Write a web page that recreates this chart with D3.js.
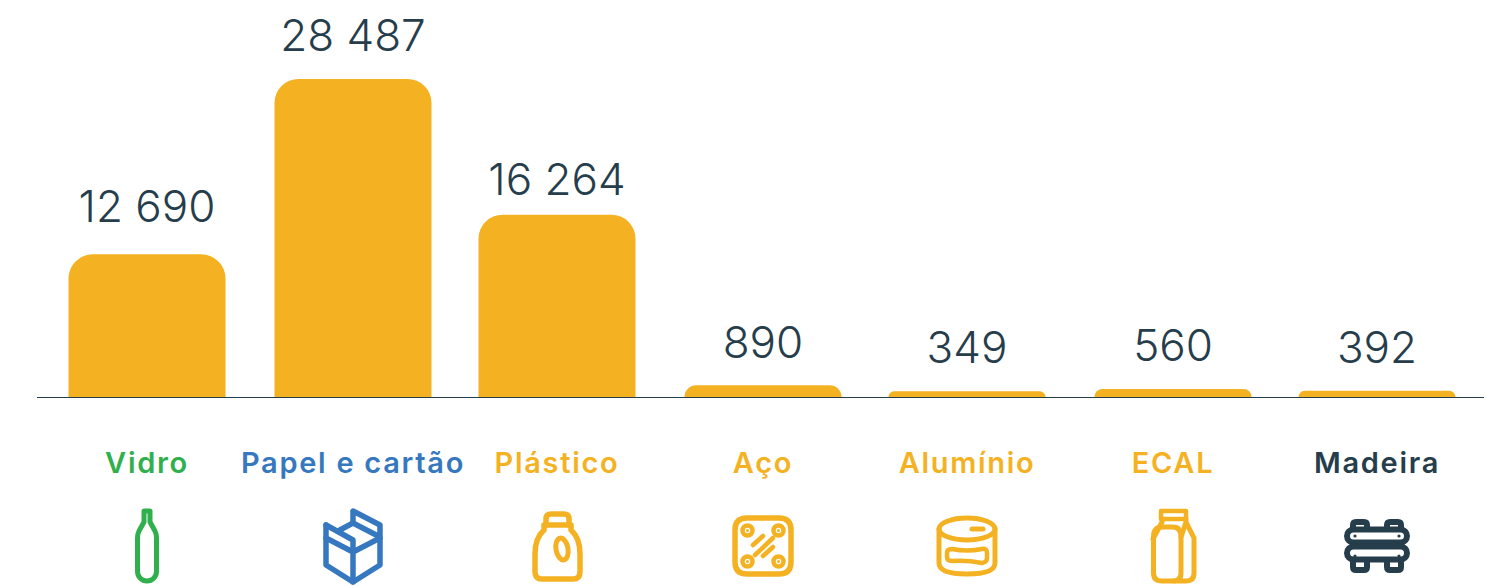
<!DOCTYPE html>
<html lang="pt">
<head>
<meta charset="utf-8">
<script src="https://cdn.jsdelivr.net/npm/d3@7/dist/d3.min.js"></script>
<style>
html,body{margin:0;padding:0;background:#fff;overflow:hidden}
svg{display:block}
</style>
</head>
<body>
<svg id="chart" width="1487" height="586"></svg>
<script>
const categories = ["Vidro","Papel e cartão","Plástico","Aço","Alumínio","ECAL","Madeira"];
const values = [12690,28487,16264,890,349,560,392];
const valueLabels = ["12 690","28 487","16 264","890","349","560","392"];
const iconKeys = ["bottle","box","jug","steel","can","carton","wood"];

// layout & style
const W = 1487, H = 586;
const baseline = 397;
const barColor = "#f4b223", inkColor = "#263d4c";
const labelColors = ["#2fb04c","#3678bf","#f4b223","#f4b223","#f4b223","#f4b223","#263d4c"];
const labelGap = [32.5,28,20,27.5,28.5,28.5,28];
const columnNudge = [0,1,0,1,0,1,0];

const x = d3.scaleBand().domain(categories).range([44.5,1479.5]).paddingInner(0.234).paddingOuter(0.117);
const y = d3.scaleLinear().domain([-160,28487]).range([baseline,79]);
const color = d3.scaleOrdinal().domain(categories).range(labelColors);

const svg = d3.select("#chart");
const idx = new Map(categories.map((c,i)=>[c,i]));
const left = c => x(c)+columnNudge[idx.get(c)];
const mid = c => left(c)+x.bandwidth()/2;

function topRounded(xp,yp,w,h,r){
  r = Math.min(r,h,w/2);
  const p = d3.path();
  p.moveTo(xp,yp+h);
  p.lineTo(xp,yp+r);
  p.arcTo(xp,yp,xp+r,yp,r);
  p.lineTo(xp+w-r,yp);
  p.arcTo(xp+w,yp,xp+w,yp+r,r);
  p.lineTo(xp+w,yp+h);
  p.closePath();
  return p.toString();
}

const data = categories.map((c,i)=>({c,v:values[i],t:valueLabels[i],icon:iconKeys[i]}));

svg.append("g").selectAll("path").data(data).join("path")
  .attr("d",d=>topRounded(left(d.c),y(d.v),x.bandwidth(),baseline-y(d.v),24))
  .attr("fill",barColor);

svg.append("line").attr("x1",37).attr("x2",1484).attr("y1",baseline+0.5).attr("y2",baseline+0.5)
  .attr("stroke",inkColor).attr("stroke-width",1.2);

svg.append("g").selectAll("text").data(data).join("text")
  .attr("x",d=>mid(d.c))
  .attr("y",d=>y(d.v)-labelGap[idx.get(d.c)])
  .attr("text-anchor","middle")
  .attr("font-family","Inter")
  .attr("font-weight",300)
  .attr("font-size",44)
  .attr("fill",inkColor)
  .text(d=>d.t);

svg.append("g").selectAll("text").data(data).join("text")
  .attr("x",d=>mid(d.c))
  .attr("y",473)
  .attr("text-anchor","middle")
  .attr("font-family","Inter")
  .attr("font-weight",600)
  .attr("font-size",29)
  .attr("letter-spacing",1.7)
  .attr("fill",d=>color(d.c))
  .text(d=>d.c);

// icons: pictograms in local coordinates around (category centre, iconY)
const iconY = 546;
const icons = {
  bottle:[{d:"M-3,-35 H3 V-24 L8,-15 Q9.5,-12 9.5,-8 V25.5 A9.5,9.5 0 0 1 -9.5,25.5 V-8 Q-9.5,-12 -8,-15 L-3,-24 Z"}],
  box:[{d:"M-27,-21 V19 L0,36 L27,19 V-21 L0,-35 V-23 L27,-9",w:5.5},
       {d:"M0,-23 L-15,-15 M-27,-21 L0,-6 V6 L-27,-8 M0,6 V36 M0,6 L27,-8",w:5.5}],
  jug:[{d:"M-11,-21 V-27 Q-11,-32 -6,-32 H7 Q12,-32 12,-27 V-21",w:5.5},
       {d:"M-13,-21 H14 V-16 Q23,-8 23,8 V26 Q23,33 16,33 H-15 Q-22,33 -22,26 V8 Q-22,-8 -13,-16 Z",w:5.5},
       {ellipse:[5,3,6,11,-10]}],
  steel:[{d:"M-16,-28 H16 Q28,-28 28,-16 V16 Q28,28 16,28 H-16 Q-28,28 -28,16 V-16 Q-28,-28 -16,-28 Z",w:5.5},
       {ring:[-15.5,-15.5]},{ring:[15.5,-15.5]},{ring:[-15.5,15.5]},{ring:[15.5,15.5]},
       {d:"M-8,9 L10,-8 M-10,-1 L0,-10 M0,10 L10,1",w:4.5}],
  can:[{ellipse:[0,-17,28,11,0]},
       {d:"M-28,-17 V17 Q-28,28 0,28 Q28,28 28,17 V-17"},
       {d:"M5,-17 H16"},
       {d:"M-15,3 Q0,6 15,3 Q20,2 20,7 V12 Q20,16 15,17 Q0,14 -15,15 Q-20,15 -20,11 V7 Q-20,3 -15,3 Z",w:4.5}],
  carton:[{d:"M-12,-35 H13 V-27 H-12 Z",w:4.5},
       {d:"M-11,-27 V-24 L-20,-7"},
       {d:"M-11,-19 H0 Q8,-19 8,-9 V27 Q8,35 0,35 H-11 Q-19.5,35 -19.5,27 V-9 Q-19.5,-19 -11,-19 Z"},
       {d:"M13,-27 V-24 L21,-8 V27 Q21,35 13,35 H1 M8,-9 L13,-24"}],
  wood:[{d:"M-23.5,-10 A6.5,6.5 0 0 1 -23.5,-23 H23.5 A6.5,6.5 0 0 1 23.5,-10 Z",dy:6.5,w:6},
       {d:"M-23.5,10 A6.5,6.5 0 0 1 -23.5,-3 H23.5 A6.5,6.5 0 0 1 23.5,10 Z",dy:3.5,w:6},
       {d:"M-24,-17 V-21 Q-24,-24 -21,-24 H-13 Q-10,-24 -10,-21 V-17 M10,-17 V-21 Q10,-24 13,-24 H21 Q24,-24 24,-21 V-17",w:6},
       {d:"M-24,17 V21 Q-24,24 -21,24 H-13 Q-10,24 -10,21 V17 M10,17 V21 Q10,24 13,24 H21 Q24,24 24,21 V17",w:6},
       {d:"M-13,0 H13",w:3},
       {dot:[-22,-10]},{dot:[22,-10]},{dot:[-22,10]},{dot:[22,10]}]
};

const iconG = svg.append("g").selectAll("g").data(data).join("g")
  .attr("transform",d=>`translate(${mid(d.c)},${iconY})`)
  .attr("fill","none").attr("stroke",d=>color(d.c)).attr("stroke-width",5)
  .attr("stroke-linecap","round").attr("stroke-linejoin","round");

iconG.each(function(d){
  const g = d3.select(this), col = color(d.c);
  icons[d.icon].forEach(s=>{
    if(s.d){
      const p = g.append("path").attr("d",s.d);
      if(s.w) p.attr("stroke-width",s.w);
      if(s.dy) p.attr("transform",`translate(0,${s.dy})`);
    } else if(s.ellipse){
      const [cx,cy,rx,ry,rot]=s.ellipse;
      g.append("ellipse").attr("cx",cx).attr("cy",cy).attr("rx",rx).attr("ry",ry)
        .attr("transform",`rotate(${rot} ${cx} ${cy})`);
    } else if(s.ring){
      const [cx,cy]=s.ring;
      g.append("circle").attr("cx",cx).attr("cy",cy).attr("r",5).attr("stroke-width",4.5);
      g.append("circle").attr("cx",cx).attr("cy",cy).attr("r",1.5).attr("fill",col).attr("stroke","none");
    } else if(s.dot){
      const [cx,cy]=s.dot;
      g.append("circle").attr("cx",cx).attr("cy",cy).attr("r",1.6).attr("fill",col).attr("stroke","none");
    }
  });
});
</script>
</body>
</html>
